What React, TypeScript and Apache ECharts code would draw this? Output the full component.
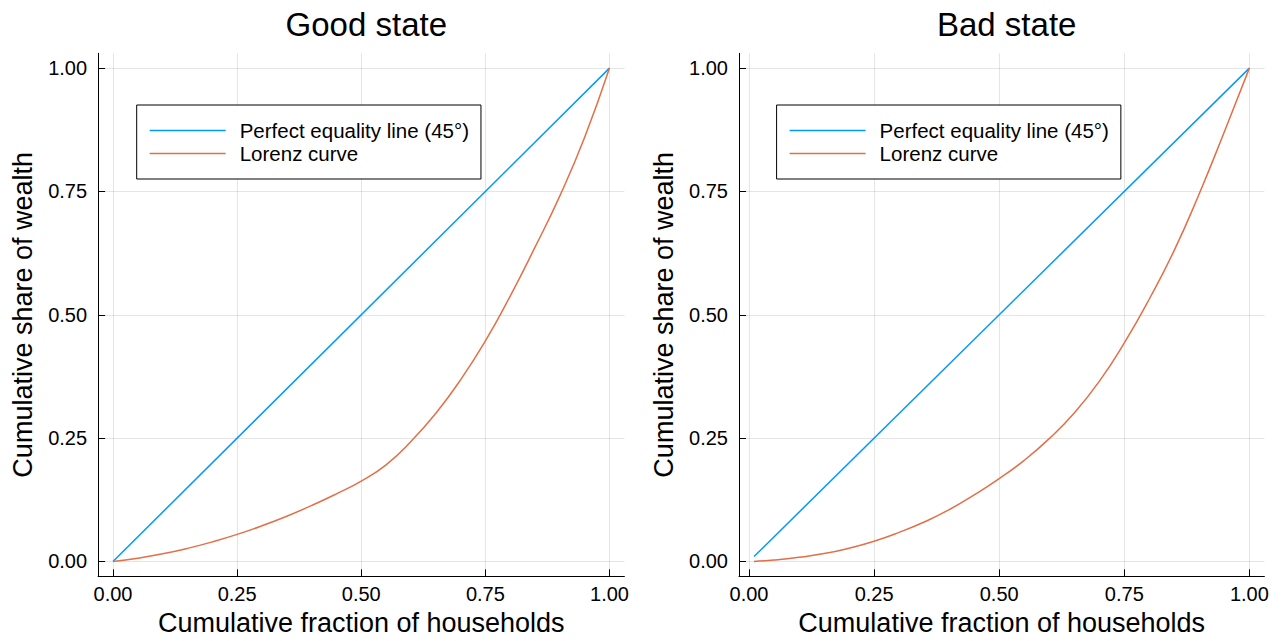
import React, { useEffect, useRef } from "react";
import * as echarts from "echarts";

const tickValues = [0, 0.25, 0.5, 0.75, 1];
const titles = ["Good state", "Bad state"];
const seriesNames = ["Perfect equality line (45°)", "Lorenz curve"];
const xLabel = "Cumulative fraction of households";
const yLabel = "Cumulative share of wealth";

const equalityGoodX = [0, 1];
const equalityGoodY = [0, 1];
const lorenzGoodX = [0, 0.05, 0.1, 0.15, 0.2, 0.25, 0.3, 0.35, 0.4, 0.45, 0.5, 0.55, 0.6, 0.65, 0.7, 0.75, 0.8, 0.85, 0.9, 0.95, 1];
const lorenzGoodY = [0, 0.0068, 0.0156, 0.0266, 0.0398, 0.055, 0.0724, 0.0918, 0.1134, 0.1372, 0.163, 0.196, 0.243, 0.3, 0.368, 0.447, 0.538, 0.637, 0.741, 0.86, 1];

const equalityBadX = [0.01, 1];
const equalityBadY = [0.01, 1];
const lorenzBadX = [0.01, 0.05, 0.1, 0.15, 0.2, 0.25, 0.3, 0.35, 0.4, 0.45, 0.5, 0.55, 0.6, 0.65, 0.7, 0.75, 0.8, 0.85, 0.9, 0.95, 1];
const lorenzBadY = [0, 0.003, 0.0086, 0.016, 0.027, 0.041, 0.059, 0.08, 0.105, 0.135, 0.168, 0.205, 0.249, 0.301, 0.365, 0.443, 0.532, 0.631, 0.746, 0.871, 1];

const FONT = "'Liberation Sans', Arial, Helvetica, sans-serif";
const BLUE = "#009AFA";
const ORANGE = "#E36F47";

const zip = (xs: number[], ys: number[]) => xs.map((x, i) => [x, ys[i]]);

function makeXAxis(gridIndex: number, min: number, max: number) {
  return {
    type: "value",
    gridIndex,
    min,
    max,
    name: xLabel,
    nameLocation: "middle",
    nameGap: 33,
    nameTextStyle: { fontFamily: FONT, fontSize: 27, color: "#000" },
    axisLine: { show: true, onZero: false, lineStyle: { color: "#000", width: 1 } },
    axisTick: { show: true, inside: true, length: 7, customValues: tickValues, lineStyle: { color: "#000", width: 1 } },
    axisLabel: {
      show: true,
      customValues: tickValues,
      margin: 8,
      fontFamily: FONT,
      fontSize: 20,
      color: "#000",
      formatter: (v: number) => v.toFixed(2),
    },
    splitLine: { show: true, lineStyle: { color: "rgba(0,0,0,0.1)", width: 1 } },
  };
}

function makeYAxis(gridIndex: number, min: number, max: number) {
  return {
    type: "value",
    gridIndex,
    min,
    max,
    name: yLabel,
    nameLocation: "middle",
    nameGap: 62,
    nameTextStyle: { fontFamily: FONT, fontSize: 27, color: "#000" },
    axisLine: { show: true, onZero: false, lineStyle: { color: "#000", width: 1 } },
    axisTick: { show: true, inside: true, length: 7, customValues: tickValues, lineStyle: { color: "#000", width: 1 } },
    axisLabel: {
      show: true,
      customValues: tickValues,
      margin: 11,
      fontFamily: FONT,
      fontSize: 20,
      color: "#000",
      formatter: (v: number) => v.toFixed(2),
    },
    splitLine: { show: true, lineStyle: { color: "rgba(0,0,0,0.1)", width: 1 } },
  };
}

function makeLine(name: string, color: string, data: number[][], idx: number) {
  return {
    type: "line",
    name,
    xAxisIndex: idx,
    yAxisIndex: idx,
    data,
    symbol: "none",
    smooth: 0.5,
    clip: false,
    lineStyle: { color, width: 1.5 },
    itemStyle: { color },
  };
}

function makeLegend(left: number) {
  return {
    left,
    top: 105,
    orient: "vertical",
    data: seriesNames,
    selectedMode: false,
    icon: "rect",
    backgroundColor: "#fff",
    borderColor: "#000",
    borderWidth: 1,
    borderRadius: 0,
    padding: [14, 12, 14, 13],
    itemWidth: 76,
    itemHeight: 1.6,
    itemGap: 0,
    textStyle: { fontFamily: FONT, fontSize: 20.5, color: "#000", lineHeight: 23, padding: [0, 0, 0, 9] },
  };
}

export default function App() {
  const ref = useRef<HTMLDivElement>(null);
  useEffect(() => {
    document.body.style.margin = "0";
    if (!ref.current) return;
    const chart = echarts.init(ref.current, null, { renderer: "svg" });
    chart.setOption({
      animation: false,
      backgroundColor: "#fff",
      title: [
        { text: titles[0], left: 361.3, top: 3, textAlign: "center", textStyle: { fontFamily: FONT, fontSize: 33, fontWeight: "normal", color: "#000" } },
        { text: titles[1], left: 1001.7, top: 3, textAlign: "center", textStyle: { fontFamily: FONT, fontSize: 33, fontWeight: "normal", color: "#000" } },
      ],
      grid: [
        { left: 98.1, top: 53.3, width: 526.3, height: 523, containLabel: false, outerBoundsMode: "none" },
        { left: 739, top: 53.3, width: 525.4, height: 523, containLabel: false, outerBoundsMode: "none" },
      ],
      xAxis: [makeXAxis(0, -0.03, 1.03), makeXAxis(1, -0.02, 1.03)],
      yAxis: [makeYAxis(0, -0.03, 1.03), makeYAxis(1, -0.03, 1.03)],
      legend: [makeLegend(136.7), makeLegend(776.6)],
      series: [
        makeLine(seriesNames[0], BLUE, zip(equalityGoodX, equalityGoodY), 0),
        makeLine(seriesNames[1], ORANGE, zip(lorenzGoodX, lorenzGoodY), 0),
        makeLine(seriesNames[0], BLUE, zip(equalityBadX, equalityBadY), 1),
        makeLine(seriesNames[1], ORANGE, zip(lorenzBadX, lorenzBadY), 1),
      ],
    });
    return () => chart.dispose();
  }, []);
  return <div ref={ref} style={{ position: "absolute", left: 0, top: 0, width: 1281, height: 641 }} />;
}
